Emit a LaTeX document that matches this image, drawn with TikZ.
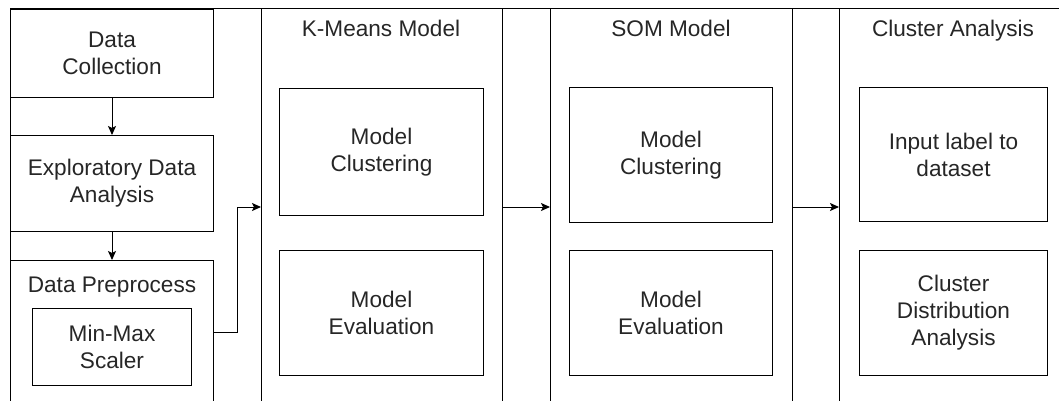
\documentclass[tikz,border=0pt]{standalone}
\usepackage{fontspec}
\setmainfont{Liberation Sans}
\usetikzlibrary{arrows.meta}
\begin{document}
\begin{tikzpicture}[x=1pt,y=-1pt,
  box/.style={draw, line width=1pt, rectangle, anchor=north west, align=center, inner sep=0pt,
    font=\fontsize{22.6}{27}\selectfont, text=black!85},
  lane/.style={draw, line width=1pt, rectangle, anchor=north west, inner sep=0pt},
  title/.style={font=\fontsize{22.6}{27}\selectfont, text=black!85, inner sep=0pt, anchor=base},
  arr/.style={line width=1pt, -{Stealth[length=9pt,width=8pt,inset=2pt]}}]
\useasboundingbox (0,0) rectangle (1059,401);
\clip (0,0) rectangle (1059,401);
% outer container and lanes
\node[lane, line width=1.3pt, minimum width=1070pt, minimum height=420pt] (outer) at (10,8) {};
\node[lane, minimum width=241pt, minimum height=420pt] (kmeans) at (261,8) {};
\node[lane, minimum width=242pt, minimum height=420pt] (som) at (550,8) {};
\node[lane, minimum width=231pt, minimum height=420pt] (clus) at (839,8) {};
% lane titles
\node[title] (tk) at (381,37) {K-Means Model};
\node[title] (ts) at (671,37) {SOM Model};
\node[title] (tc) at (953,37) {Cluster Analysis};
% left column
\node[box, minimum width=203pt, minimum height=88pt] (dc) at (10,9) {Data\\Collection};
\node[box, minimum width=203pt, minimum height=96pt] (eda) at (10,135) {Exploratory Data\\Analysis};
\node[box, minimum width=203pt, minimum height=160pt] (prep) at (10,260) {};
\node[title] (tp) at (112,292) {Data Preprocess};
\node[box, minimum width=159pt, minimum height=77pt] (mm) at (32,308) {Min-Max\\Scaler};
% K-Means boxes
\node[box, minimum width=204pt, minimum height=127pt] (kc) at (279,88) {Model\\Clustering};
\node[box, minimum width=204pt, minimum height=125pt] (ke) at (279,250) {Model\\Evaluation};
% SOM boxes
\node[box, minimum width=203pt, minimum height=135pt] (sc) at (569,87) {Model\\Clustering};
\node[box, minimum width=203pt, minimum height=125pt] (se) at (569,250) {Model\\Evaluation};
% Cluster analysis boxes
\node[box, minimum width=188pt, minimum height=134pt] (cc) at (859,87) {Input label to\\dataset};
\node[box, minimum width=188pt, minimum height=125pt] (ce) at (859,250) {Cluster\\Distribution\\Analysis};
% connectors
\draw[arr] (dc.south) -- (eda.north);
\draw[arr] (eda.south) -- (prep.north);
\draw[arr] (prep.east |- 0,332) -- (237,332) |- (kmeans.west |- 0,207);
\draw[arr] (kmeans.east |- 0,207) -- (som.west |- 0,207);
\draw[arr] (som.east |- 0,207) -- (clus.west |- 0,207);
\end{tikzpicture}
\end{document}
